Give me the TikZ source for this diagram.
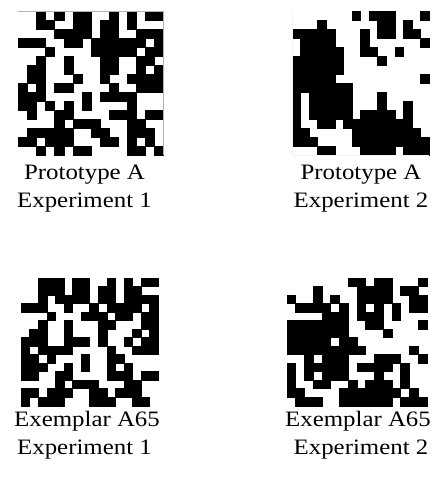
\documentclass[tikz,border=0pt]{standalone}
\usepackage{fontspec}
\setmainfont{Liberation Serif}
\usetikzlibrary{positioning}

\tikzset{
  bit/.style={fill=black, draw=black, line width=0.2pt},
  caption/.style={anchor=base, inner sep=0pt, xscale=1.13,
    font=\fontsize{22}{26}\selectfont},
}

\begin{document}
\begin{tikzpicture}[x=1pt,y=-1pt]
\useasboundingbox (0,0) rectangle (436,477);

% prototype, experiment 1
\begin{scope}[shift={(18.3,11)},x=9.06pt,y=-9pt]
\foreach \row [count=\r from 0] in {
  {2,4,6,7,10,12,14,15},{2,3,6,7,9,10,12},{4,5,6,7,9,10,13,14,15},
  {0,1,2,5,6,8,9,10,11,12,13,15},{3,8,9,10,11,12,14,15},{2,5,9,10,13,14},
  {1,2,5,9,10,13,15},{1,2,6,9,12,13,14,15},{0,2,4,5,10,13,14,15},
  {0,1,2,7,9,10,11,12},{0,1,3,5,7,12},{1,4,5,10,11,12,14,15},
  {4,6,7,8,12,13},{1,2,3,4,5,8,9,12,13,14},{0,1,3,4,5,9,10,12,14},
  {2,4,6,7,12,13,15}}
  \foreach \c in \row \filldraw[bit] (\c,\r) rectangle ++(1,1);
\draw[gray!60] (0,0) -- (16,0) -- (16,16);
\end{scope}

% prototype, experiment 2
\begin{scope}[shift={(291.7,11)},x=8.58pt,y=-9pt]
\foreach \row [count=\r from 0] in {
  {7,9,10,11,15},{3,10,11,13},{0,1,2,3,4,8,10,11,13,14},
  {1,2,3,4,8,15},{1,2,3,4,5,8,9,12},{0,1,2,3,4,5,10},
  {0,1,2,3,4,5},{0,1,2,3,4,15},{0,1,2,3,4,5,6},
  {0,2,3,4,5,6,10},{0,2,3,4,5,6,10,13},{0,2,3,4,5,6,8,9,10,11,13},
  {0,3,4,6,7,8,9,10,11,12,13},{0,1,7,8,9,10,11,12,13,14},
  {0,1,2,7,8,9,10,11,12,13,14,15},{3,4,8,9,10,11,13,14,15}}
  \foreach \c in \row \filldraw[bit] (\c,\r) rectangle ++(1,1);
\draw[blue!6] (0,0) -- (0,16) -- (16,16);
\end{scope}

% exemplar, experiment 1
\begin{scope}[shift={(21,277.7)},x=8.56pt,y=-8.53pt]
\foreach \row [count=\r from 0] in {
  {2,3,4,6,7,10,12,14,15},{2,3,4,6,7,9,10,12,13},{2,4,5,6,7,9,10,12,13,14,15},
  {0,1,2,5,8,10,11,12,13,15},{3,7,8,9,11,12,14,15},{2,5,9,10,14,15},
  {1,2,5,9,13,15},{0,1,2,5,6,7,9,12,14,15},{0,2,3,4,5,10,13,14,15},
  {0,1,3,7,10,11},{0,1,2,5,7,10,12},{0,1,4,5,10,11,12,14,15},
  {4,6,7,8,12,13},{0,1,3,4,5,8,9,11,12,13},{0,2,3,4,8,9,10,13,14}}
  \foreach \c in \row \filldraw[bit] (\c,\r) rectangle ++(1,1);
\end{scope}

% exemplar, experiment 2
\begin{scope}[shift={(286.7,277.7)},x=8.75pt,y=-8.53pt]
\foreach \row [count=\r from 0] in {
  {7,8,10,11,15},{3,8,9,10,11,13,14},{0,3,5,8,9,10,11,14,15},
  {1,2,3,4,6,8,10,12,14,15},{4,5,6,8,9,10,12},{0,1,2,3,4,5,6,9,10,15},
  {0,1,2,3,4,5,6,11},{0,1,2,3,4,6,7},{0,1,2,3,4,5,6,7,8,14},
  {2,4,5,6,10,11,12,15},{0,2,3,4,5,6,8,9,10,11,13},{0,2,4,5,6,10,13},
  {0,3,4,7,9,10,11,13},{0,1,6,7,8,9,10,11,12,14},
  {1,2,3,6,7,8,9,10,11,13,14,15}}
  \foreach \c in \row \filldraw[bit] (\c,\r) rectangle ++(1,1);
\end{scope}

% captions
\node[caption] (protoa) at (84.5,179) {Prototype A};
\node[caption] (expa) at (84.5,207.3) {Experiment 1};
\node[caption] (protob) at (361,179) {Prototype A};
\node[caption] (expb) at (361,207.3) {Experiment 2};
\node[caption] (exema) at (87,426) {Exemplar A65};
\node[caption] (expc) at (84.5,454) {Experiment 1};
\node[caption] (exemb) at (358,426) {Exemplar A65};
\node[caption] (expd) at (361,454) {Experiment 2};
\end{tikzpicture}
\end{document}
